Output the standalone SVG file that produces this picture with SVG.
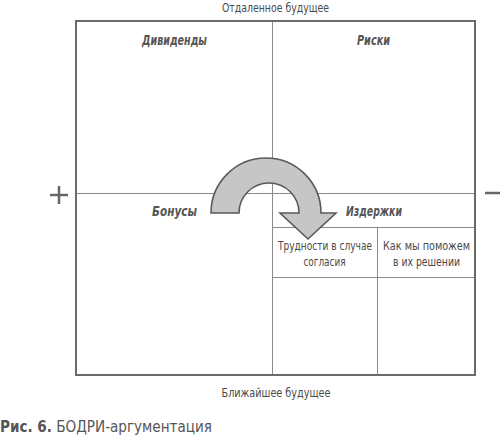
<svg xmlns="http://www.w3.org/2000/svg" width="500" height="437" viewBox="0 0 500 437">
<style>
text{font-family:"DejaVu Sans Condensed","Liberation Sans",sans-serif;fill:#4a4a4a}
.lab{font-size:12.5px;text-anchor:middle}
.q{font-size:14px;font-style:italic;font-weight:bold;text-anchor:middle;fill:#555}
.cell{font-size:11.5px;text-anchor:middle}
.thin{stroke:#8a8a8a;stroke-width:1;fill:none}
.sign{stroke:#666;stroke-width:2.5}
</style>
<rect width="500" height="437" fill="#fff"/>
<g id="axes">
<text class="lab" x="275.5" y="12" textLength="107" lengthAdjust="spacingAndGlyphs">Отдаленное будущее</text>
<text class="lab" x="276" y="397" textLength="109" lengthAdjust="spacingAndGlyphs">Ближайшее будущее</text>
<line class="sign" x1="50" y1="195" x2="68" y2="195"/>
<line class="sign" x1="59" y1="186" x2="59" y2="204"/>
<line class="sign" x1="485" y1="193" x2="500" y2="193"/>
</g>
<g id="connectors">
<line class="thin" x1="272.5" y1="21" x2="272.5" y2="375"/>
<line class="thin" x1="76" y1="193.5" x2="475" y2="193.5"/>
<line class="thin" x1="272" y1="227.5" x2="475" y2="227.5"/>
<line class="thin" x1="272" y1="277.5" x2="475" y2="277.5"/>
<line class="thin" x1="377.5" y1="227" x2="377.5" y2="375"/>
</g>
<rect id="frame" x="76" y="21" width="399" height="354" fill="none" stroke="#6a6a6a" stroke-width="2"/>
<g id="dividends"><text class="q" x="174.5" y="45" textLength="65" lengthAdjust="spacingAndGlyphs">Дивиденды</text></g>
<g id="risks"><text class="q" x="373.5" y="45" textLength="33" lengthAdjust="spacingAndGlyphs">Риски</text></g>
<g id="bonuses"><text class="q" x="174.5" y="216" textLength="45" lengthAdjust="spacingAndGlyphs">Бонусы</text></g>
<g id="costs"><text class="q" x="374" y="216" textLength="56" lengthAdjust="spacingAndGlyphs">Издержки</text></g>
<g id="difficulties"><text class="cell" x="325" y="250" textLength="94" lengthAdjust="spacingAndGlyphs">Трудности в случае</text><text class="cell" x="324.5" y="266" textLength="42" lengthAdjust="spacingAndGlyphs">согласия</text></g>
<g id="help"><text class="cell" x="426.5" y="250" textLength="87" lengthAdjust="spacingAndGlyphs">Как мы поможем</text><text class="cell" x="426.5" y="266" textLength="67" lengthAdjust="spacingAndGlyphs">в их решении</text></g>
<g id="arrow">
<path d="M211,213 A55,55 0 0 1 321,213 L336,213 L308,239 L280,213 L299,213 A30,30 0 0 0 239,213 Z" fill="#c6c6c6" stroke="#5a5a5a" stroke-width="1.6" stroke-linejoin="miter"/>
</g>
<g id="caption"><text x="0" y="432" textLength="212" lengthAdjust="spacingAndGlyphs" style="font-size:16px;fill:#555;font-family:'DejaVu Sans Condensed','Liberation Sans',sans-serif"><tspan font-weight="bold">Рис. 6.</tspan> БОДРИ-аргументация</text></g>
</svg>
